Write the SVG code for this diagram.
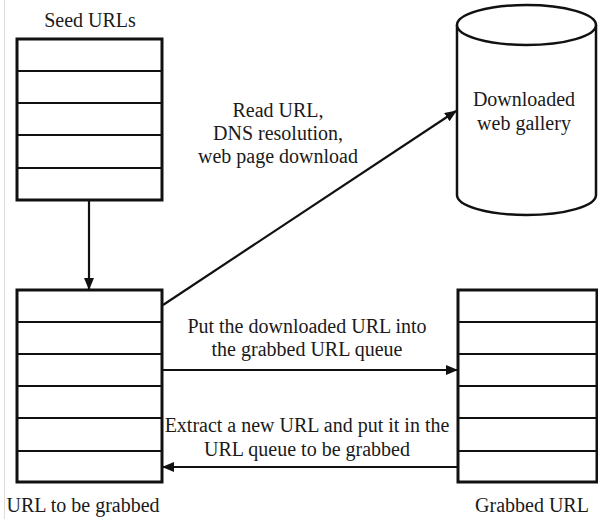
<svg xmlns="http://www.w3.org/2000/svg" width="598" height="519" viewBox="0 0 598 519">
<defs>
<marker id="ah" viewBox="0 0 12 10" refX="11" refY="5" markerWidth="12" markerHeight="10" markerUnits="userSpaceOnUse" orient="auto">
<path d="M0,0 L12,5 L0,10 Z" fill="#111"/>
</marker>
</defs>
<style>
text{font-family:"Liberation Serif","Times New Roman",serif;font-size:20px;fill:#1a1a1a;text-anchor:middle}
.box{fill:#fff;stroke:#111;stroke-width:3}
.row{stroke:#111;stroke-width:2}
.conn{stroke:#111;stroke-width:2.2;fill:none;marker-end:url(#ah)}
</style>
<rect width="598" height="519" fill="#fff"/>
<line x1="4.5" y1="0" x2="4.5" y2="519" stroke="#ddd" stroke-width="1"/>

<g id="seed-urls">
<rect class="box" x="17" y="39" width="145" height="161"/>
<line class="row" x1="17" y1="71" x2="162" y2="71"/>
<line class="row" x1="17" y1="103" x2="162" y2="103"/>
<line class="row" x1="17" y1="135" x2="162" y2="135"/>
<line class="row" x1="17" y1="168" x2="162" y2="168"/>
<text x="90" y="27">Seed URLs</text>
</g>

<g id="url-to-be-grabbed">
<rect class="box" x="17" y="290" width="145" height="192"/>
<line class="row" x1="17" y1="322" x2="162" y2="322"/>
<line class="row" x1="17" y1="354" x2="162" y2="354"/>
<line class="row" x1="17" y1="386" x2="162" y2="386"/>
<line class="row" x1="17" y1="418" x2="162" y2="418"/>
<line class="row" x1="17" y1="451" x2="162" y2="451"/>
<text x="83" y="512">URL to be grabbed</text>
</g>

<g id="downloaded-web-gallery">
<path d="M457,25 L457,195 A69.5,20 0 0 0 596,195 L596,25" fill="#fff" stroke="#111" stroke-width="2.5"/>
<ellipse cx="526.5" cy="25" rx="69.5" ry="20" fill="#fff" stroke="#111" stroke-width="2.5"/>
<text x="524" y="106">Downloaded</text>
<text x="524" y="130">web gallery</text>
</g>

<g id="grabbed-url">
<rect class="box" x="458" y="290" width="139" height="192"/>
<line class="row" x1="458" y1="322" x2="597" y2="322"/>
<line class="row" x1="458" y1="354" x2="597" y2="354"/>
<line class="row" x1="458" y1="386" x2="597" y2="386"/>
<line class="row" x1="458" y1="418" x2="597" y2="418"/>
<line class="row" x1="458" y1="451" x2="597" y2="451"/>
<text x="532" y="512">Grabbed URL</text>
</g>

<g id="connectors">
<line class="conn" x1="89" y1="200" x2="89" y2="289"/>
<line class="conn" x1="163" y1="305" x2="456" y2="111"/>
<line class="conn" x1="162" y1="370" x2="457" y2="370"/>
<line class="conn" x1="458" y1="467" x2="163" y2="467"/>
<text x="278" y="117">Read URL,</text>
<text x="278" y="140">DNS resolution,</text>
<text x="278" y="163">web page download</text>
<text x="307" y="333">Put the downloaded URL into</text>
<text x="307" y="356">the grabbed URL queue</text>
<text x="307" y="432">Extract a new URL and put it in the</text>
<text x="307" y="456">URL queue to be grabbed</text>
</g>
</svg>
